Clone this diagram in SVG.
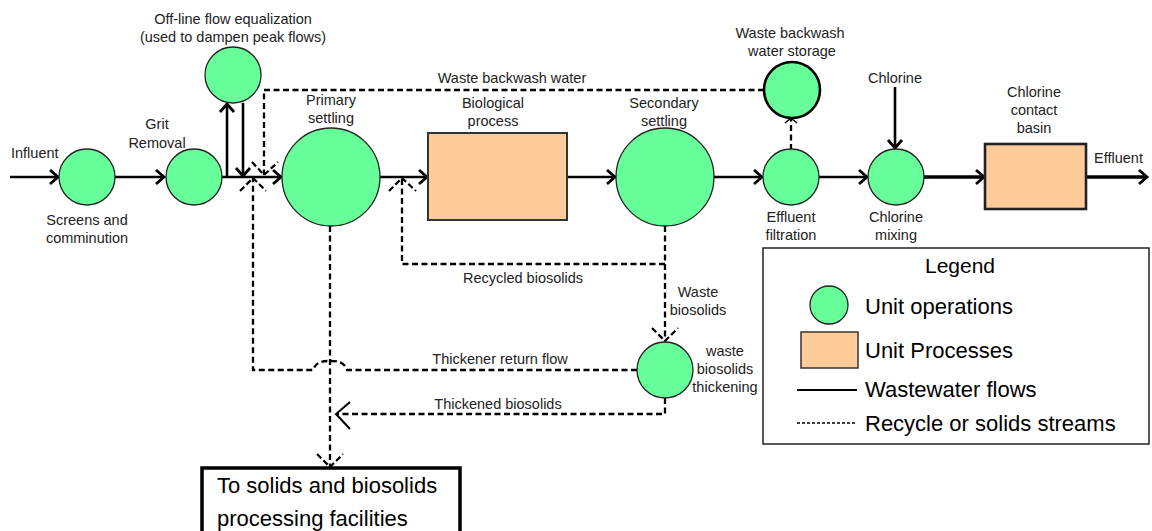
<svg xmlns="http://www.w3.org/2000/svg" width="1152" height="531" viewBox="0 0 1152 531">
<defs>
<style>
.op{fill:#66FF99;stroke:#222;stroke-width:1.3}
.pr{fill:#FFCC99;stroke:#333;stroke-width:2}
.flow{fill:none;stroke:#000;stroke-width:2.6}
.thick{fill:none;stroke:#000;stroke-width:3.4}
.dash{fill:none;stroke:#000;stroke-width:2.3;stroke-dasharray:6,3.5}
.dh{fill:none;stroke:#000;stroke-width:2.2;stroke-dasharray:6,3}
.lbl{font-family:"Liberation Sans",Arial,sans-serif;font-size:14.5px;fill:#222;text-anchor:middle}
.big{font-family:"Liberation Sans",Arial,sans-serif;font-size:22px;fill:#000}
</style>
<marker id="ah" markerUnits="userSpaceOnUse" markerWidth="24" markerHeight="24" viewBox="-12 -12 24 24" refX="0" refY="0" orient="auto">
<path d="M-8,-7 L0,0 L-8,7" fill="none" stroke="#000" stroke-width="2.8"/>
</marker>
</defs>

<g id="connectors">
<!-- main wastewater flows -->
<path class="flow" d="M10,177 H58" marker-end="url(#ah)"/>
<path class="flow" d="M114,177 H164" marker-end="url(#ah)"/>
<path class="flow" d="M221,177 H281" marker-end="url(#ah)"/>
<path class="flow" d="M227,177 V104" marker-end="url(#ah)"/>
<path class="flow" d="M243,103 V176" marker-end="url(#ah)"/>
<path class="flow" d="M379,177 H427" marker-end="url(#ah)"/>
<path class="flow" d="M567,177 H615" marker-end="url(#ah)"/>
<path class="flow" d="M714,177 H762" marker-end="url(#ah)"/>
<path class="flow" d="M819,177 H867" marker-end="url(#ah)"/>
<path class="flow" d="M895,87 V148" marker-end="url(#ah)"/>
<path class="thick" d="M923,177 H984" marker-end="url(#ah)"/>
<path class="thick" d="M1086,177 H1147" marker-end="url(#ah)"/>
<!-- recycle / solids streams -->
<path class="dash" d="M764,90 H264 V175"/>
<path class="dh" d="M252,162 L264,175 L278,162"/>
<path class="dash" d="M665,226 V341"/>
<path class="dh" d="M652,328 L665,341 L678,328"/>
<path class="dash" d="M665,264 H402 V178"/>
<path class="dh" d="M389,191 L402,178 L416,191"/>
<path class="dash" d="M637,370 H347 C344,361 336,361 330,361 C324,361 316,361 313,370 H253 V178"/>
<path class="dh" d="M240,191 L253,178 L266,191"/>
<path class="dash" d="M330,226 V467"/>
<path class="dh" d="M317,454 L330,467 L343,454"/>
<path class="dash" d="M665,398 V414 H337"/>
<path fill="none" stroke="#000" stroke-width="2" d="M350,402 L336,414 L350,429"/>
<path class="dash" d="M791,150 V119"/>
<path fill="none" stroke="#000" stroke-width="1.6" d="M785,123 L791,118 L797,123"/>
</g>

<g id="screens">
<circle class="op" cx="87" cy="177" r="28"/>
<text class="lbl" x="87" y="225">Screens and</text>
<text class="lbl" x="87" y="243">comminution</text>
</g>
<g id="influent"><text class="lbl" x="11" y="158" style="text-anchor:start">Influent</text></g>
<g id="grit">
<circle class="op" cx="194" cy="177" r="28"/>
<text class="lbl" x="157" y="129">Grit</text>
<text class="lbl" x="157" y="148">Removal</text>
</g>
<g id="equalization">
<circle class="op" cx="233" cy="75" r="28"/>
<text class="lbl" x="233" y="24">Off-line flow equalization</text>
<text class="lbl" x="233" y="42">(used to dampen peak flows)</text>
</g>
<g id="primary">
<circle class="op" cx="331" cy="177" r="49"/>
<text class="lbl" x="331" y="105">Primary</text>
<text class="lbl" x="331" y="123">settling</text>
</g>
<g id="biological">
<rect class="pr" x="428" y="133" width="139" height="87"/>
<text class="lbl" x="493" y="108">Biological</text>
<text class="lbl" x="493" y="126">process</text>
</g>
<g id="secondary">
<circle class="op" cx="665" cy="177" r="49"/>
<text class="lbl" x="664" y="108">Secondary</text>
<text class="lbl" x="664" y="126">settling</text>
</g>
<g id="storage">
<circle class="op" cx="792" cy="90" r="28" style="stroke-width:2.6;stroke:#000"/>
<text class="lbl" x="790" y="38">Waste backwash</text>
<text class="lbl" x="792" y="56">water storage</text>
</g>
<g id="backwash-label"><text class="lbl" x="512" y="83">Waste backwash water</text></g>
<g id="filtration">
<circle class="op" cx="791" cy="177" r="28"/>
<text class="lbl" x="791" y="222">Effluent</text>
<text class="lbl" x="791" y="240">filtration</text>
</g>
<g id="chlorine"><text class="lbl" x="895" y="83">Chlorine</text></g>
<g id="mixing">
<circle class="op" cx="896" cy="177" r="28"/>
<text class="lbl" x="896" y="222">Chlorine</text>
<text class="lbl" x="896" y="240">mixing</text>
</g>
<g id="contact">
<rect class="pr" x="985" y="144" width="101" height="65" style="stroke-width:2.6;stroke:#222"/>
<text class="lbl" x="1034" y="97">Chlorine</text>
<text class="lbl" x="1034" y="115">contact</text>
<text class="lbl" x="1034" y="133">basin</text>
</g>
<g id="effluent"><text class="lbl" x="1094" y="163" style="text-anchor:start">Effluent</text></g>
<g id="thickener">
<circle class="op" cx="665" cy="370" r="28"/>
<text class="lbl" x="698" y="297">Waste</text>
<text class="lbl" x="698" y="315">biosolids</text>
<text class="lbl" x="725" y="356">waste</text>
<text class="lbl" x="725" y="374">biosolids</text>
<text class="lbl" x="725" y="392">thickening</text>
</g>
<g id="stream-labels">
<text class="lbl" x="523" y="283">Recycled biosolids</text>
<text class="lbl" x="500" y="364">Thickener return flow</text>
<text class="lbl" x="498" y="409">Thickened biosolids</text>
</g>
<g id="solids">
<rect x="202" y="468" width="258" height="80" fill="#fff" stroke="#000" stroke-width="3.5"/>
<text class="big" x="217" y="493">To solids and biosolids</text>
<text class="big" x="217" y="526">processing facilities</text>
</g>
<g id="legend">
<rect x="763" y="248" width="386" height="196" fill="#fff" stroke="#222" stroke-width="1.5"/>
<text class="big" x="960" y="273" style="text-anchor:middle;font-size:21px">Legend</text>
<circle class="op" cx="829" cy="305" r="19"/>
<text class="big" x="865" y="314">Unit operations</text>
<rect class="pr" x="801" y="332" width="57" height="36" style="stroke-width:1.5"/>
<text class="big" x="865" y="358">Unit Processes</text>
<line x1="797" y1="390" x2="857" y2="390" stroke="#000" stroke-width="2"/>
<text class="big" x="865" y="397">Wastewater flows</text>
<line x1="797" y1="423" x2="857" y2="423" stroke="#000" stroke-width="1.6" stroke-dasharray="3,2"/>
<text class="big" x="865" y="431">Recycle or solids streams</text>
</g>
</svg>
